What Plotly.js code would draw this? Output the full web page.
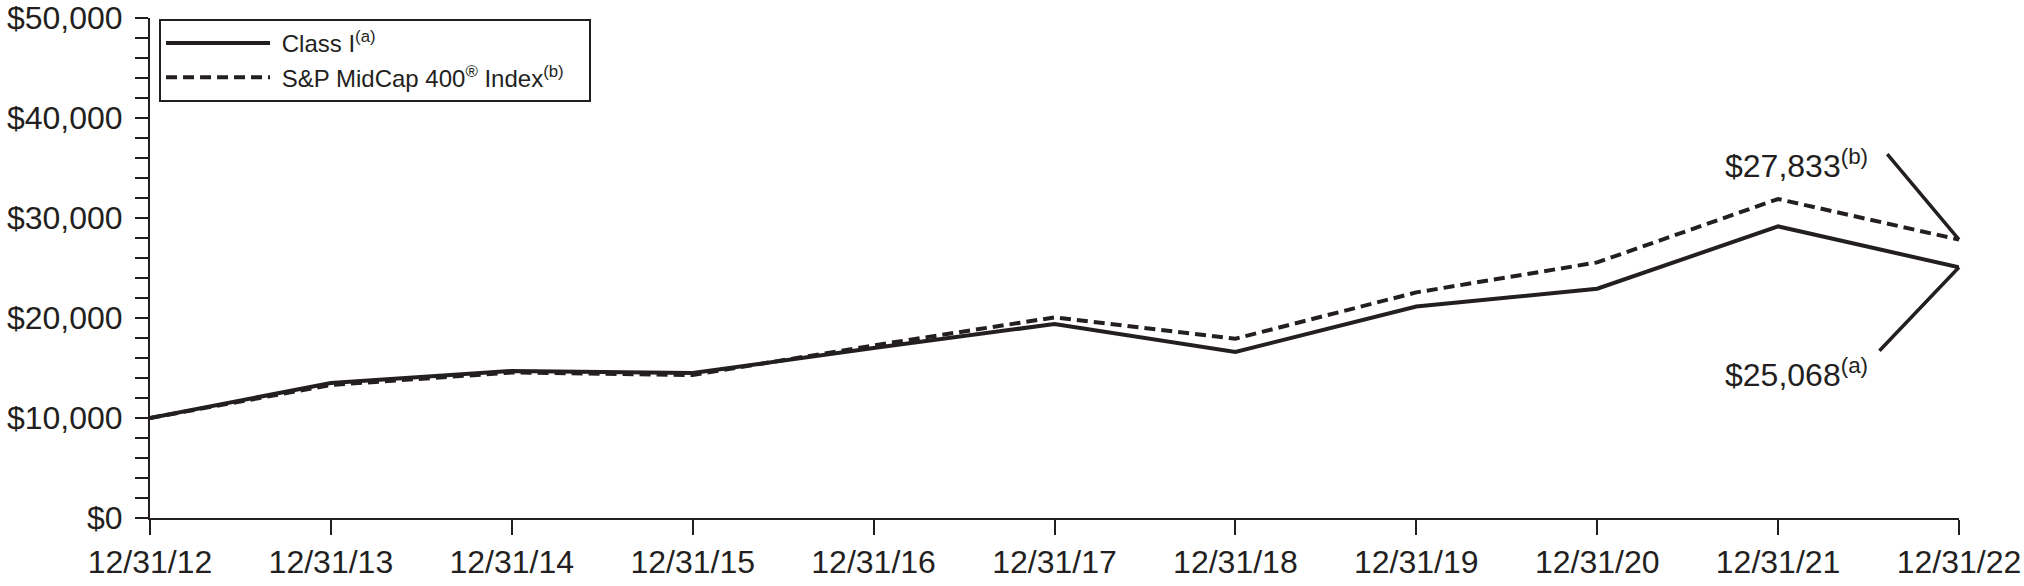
<!DOCTYPE html>
<html>
<head>
<meta charset="utf-8">
<script src="https://cdn.plot.ly/plotly-3.0.1.min.js"></script>
<style>
html,body{margin:0;padding:0;background:#fff;}
#chart{width:2024px;height:586px;}
</style>
</head>
<body>
<div id="chart"></div>
<script>
// ---- data ----
const dates = ["12/31/12","12/31/13","12/31/14","12/31/15","12/31/16","12/31/17","12/31/18","12/31/19","12/31/20","12/31/21","12/31/22"];
const classI = [10000, 13500, 14700, 14500, 17000, 19400, 16600, 21150, 22930, 29160, 25068];
const spMidCap = [10000, 13300, 14550, 14300, 17260, 20060, 17930, 22560, 25560, 31900, 27833];
const seriesNames = ["Class I<sup>(a)</sup>", "S&P MidCap 400<sup>®</sup> Index<sup>(b)</sup>"];
const endLabels = ["$25,068<sup>(a)</sup>", "$27,833<sup>(b)</sup>"];
const yTickVals = [0, 10000, 20000, 30000, 40000, 50000];
const yTickText = ["$0", "$10,000", "$20,000", "$30,000", "$40,000", "$50,000"];

const ink = "#231f20";
const font = "'Liberation Sans', Arial, Helvetica, sans-serif";
const last = dates.length - 1;
const prePad = "&nbsp;";
const postPad = "&nbsp;&nbsp;&nbsp;";

const traces = [
  {x: dates, y: classI, name: prePad + seriesNames[0] + postPad, type: "scatter", mode: "lines",
   line: {color: ink, width: 4}},
  {x: dates, y: spMidCap, name: prePad + seriesNames[1] + postPad, type: "scatter", mode: "lines",
   line: {color: ink, width: 4, dash: "11px,6px"}}
];

const layout = {
  width: 2024, height: 586,
  margin: {l: 150, r: 65, t: 18, b: 68},
  paper_bgcolor: "#fff", plot_bgcolor: "#fff",
  font: {family: font, color: ink, size: 31},
  showlegend: true,
  legend: {
    x: 0.005, y: 0.998, xanchor: "left", yanchor: "top",
    bordercolor: ink, borderwidth: 2, bgcolor: "#fff",
    font: {family: font, size: 24, color: ink},
    itemwidth: 104, tracegroupgap: 0
  },
  xaxis: {
    type: "category", range: [0, last],
    showgrid: false, zeroline: false,
    showline: true, linecolor: ink, linewidth: 2,
    ticks: "outside", ticklen: 15, tickwidth: 2, tickcolor: ink,
    tickfont: {family: font, size: 32, color: ink},
    fixedrange: true
  },
  yaxis: {
    range: [0, 50000],
    tickvals: yTickVals, ticktext: yTickText,
    showgrid: false, zeroline: false,
    showline: true, linecolor: ink, linewidth: 2,
    ticks: "outside", ticklen: 13, tickwidth: 2, tickcolor: ink,
    minor: {dtick: 2000, ticks: "outside", ticklen: 13, tickwidth: 2, tickcolor: ink},
    tickfont: {family: font, size: 32, color: ink},
    ticklabelstandoff: 6,
    ticklabeloverflow: "allow",
    fixedrange: true
  },
  annotations: [
    // leader lines
    {x: dates[last], y: spMidCap[last], xref: "x", yref: "y", text: "",
     showarrow: true, arrowhead: 0, arrowwidth: 3.5, arrowcolor: ink,
     ax: -73, ay: -87, standoff: 0, startstandoff: 0},
    {x: dates[last], y: classI[last], xref: "x", yref: "y", text: "",
     showarrow: true, arrowhead: 0, arrowwidth: 3.5, arrowcolor: ink,
     ax: -81, ay: 85, standoff: 0, startstandoff: 0},
    // labels
    {x: dates[last], y: spMidCap[last], xref: "x", yref: "y", text: endLabels[1],
     showarrow: false, xanchor: "right", yanchor: "middle", xshift: -89, yshift: 76,
     font: {family: font, size: 32, color: ink}},
    {x: dates[last], y: classI[last], xref: "x", yref: "y", text: endLabels[0],
     showarrow: false, xanchor: "right", yanchor: "middle", xshift: -89, yshift: -106,
     font: {family: font, size: 32, color: ink}}
  ]
};

Plotly.newPlot("chart", traces, layout, {displayModeBar: false, staticPlot: true});
</script>
</body>
</html>
